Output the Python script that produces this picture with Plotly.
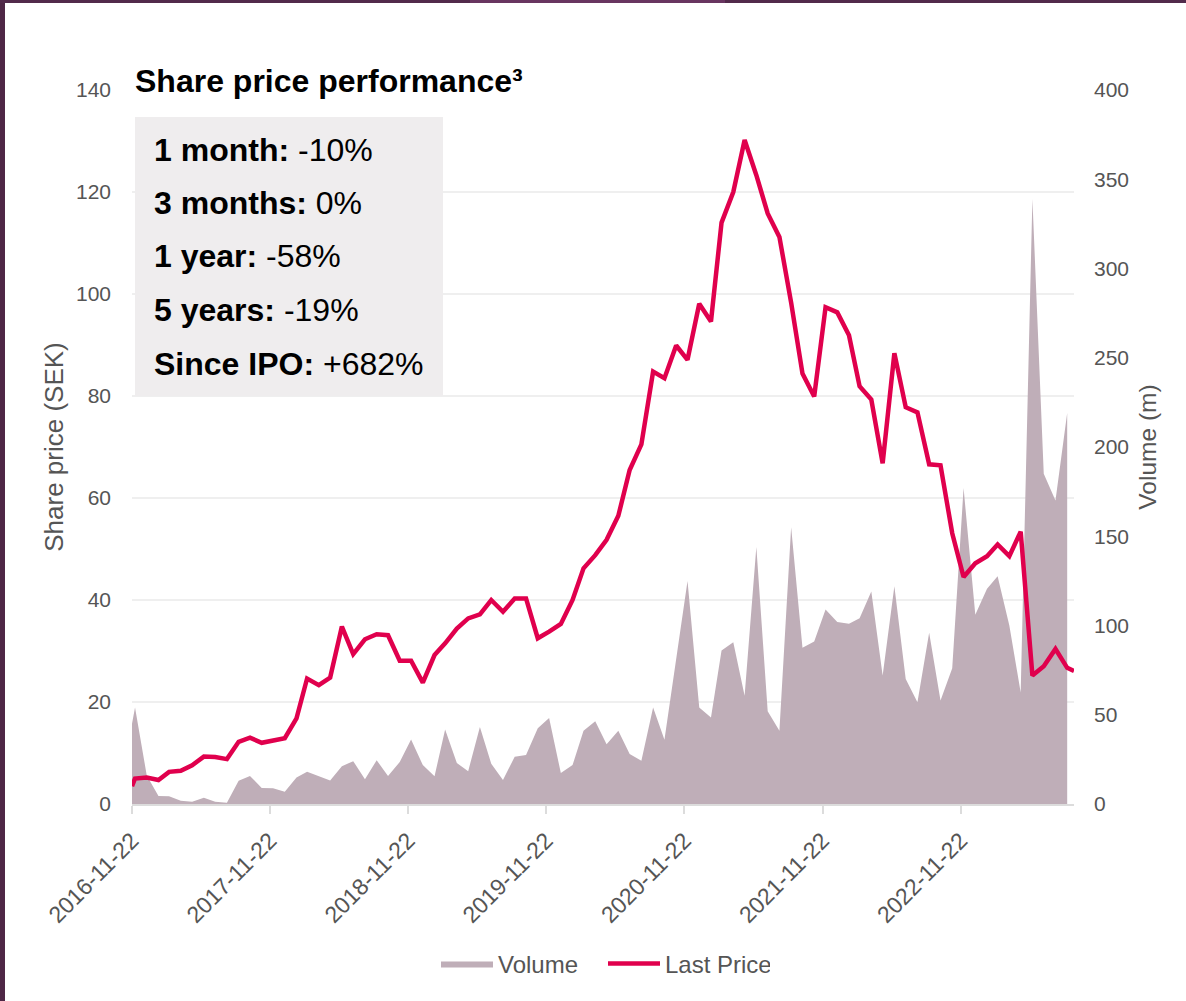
import pandas as pd
import plotly.graph_objects as go

# ---------------- data ----------------
ipo_date = "2016-11-22"
last_date = "2023-09-18"
month_ends = [d.strftime("%Y-%m-%d") for d in pd.date_range("2016-11-30", "2023-08-31", freq="ME")]
volume_dates = [ipo_date] + month_ends
price_dates = volume_dates + [last_date]

last_price = [
    3.5, 5.0, 5.2,
    4.7, 6.3, 6.5, 7.6, 9.3, 9.2, 8.8, 12.2, 13.0, 12.0, 12.4, 12.9,
    16.8, 24.6, 23.3, 24.8, 34.8, 29.4, 32.3, 33.3, 33.1, 28.1, 28.1, 23.8,
    29.2, 31.5, 34.4, 36.4, 37.2, 40.0, 37.7, 40.3, 40.3, 32.5, 33.8, 35.3,
    40.0, 46.2, 48.8, 51.8, 56.5, 65.5, 70.5, 84.8, 83.5, 89.9, 87.1, 98.1,
    94.6, 114.0, 120.0, 130.2, 123.3, 115.8, 111.2, 98.3, 84.4, 79.9, 97.4, 96.4,
    91.9, 81.9, 79.3, 66.8, 88.4, 77.8, 76.8, 66.6, 66.4, 53.1, 44.5, 47.2,
    48.6, 50.9, 48.6, 53.4, 25.2, 27.0, 30.4, 26.7,
    26.1,
]

volume = [
    45, 54, 16,
    4.5, 4.3, 1.8, 1.3, 3.5, 1.3, 0.7, 13, 15.7, 9, 8.8, 6.9,
    14.8, 18, 15.7, 13.2, 21.2, 24, 13.8, 24.5, 15.7, 23.5, 36.2, 21.8,
    15.5, 41.8, 23, 18.4, 43.2, 22.6, 13.4, 26.5, 27.4, 42.4, 48.2, 17.3,
    21.8, 41, 46.4, 33.5, 41, 28, 24.2, 54, 36, 80, 125, 54,
    48.4, 86, 90.6, 60.7, 144, 52, 41, 155, 87.5, 91, 109, 102,
    101, 104, 119, 72, 122, 70, 57, 96, 58, 76, 177, 106,
    120.6, 127.6, 100, 62.5, 339, 185, 170, 219,
]

tick_dates = ["2016-11-22", "2017-11-22", "2018-11-22", "2019-11-22",
              "2020-11-22", "2021-11-22", "2022-11-22"]

perf_labels = ["1 month:", "3 months:", "1 year:", "5 years:", "Since IPO:"]
perf_values = ["-10%", "0%", "-58%", "-19%", "+682%"]

# ---------------- styling ----------------
W, H = 1186, 1001
L, R, T, B = 132, 112, 90, 197
PW, PH = W - L - R, H - T - B
FONT = "Liberation Sans, Arial, sans-serif"
GREY = "#555555"
PRICE_COLOR = "#e0004d"
VOL_COLOR = "#bfaeb8"


def px(x):
    return (x - L) / PW


def py(y):
    return (H - B - y) / PH


fig = go.Figure()
fig.add_trace(go.Scatter(
    x=volume_dates, y=volume, name="Volume", yaxis="y",
    mode="lines", fill="tozeroy", fillcolor=VOL_COLOR,
    line=dict(width=0, color=VOL_COLOR), hoverinfo="x+y",
))
fig.add_trace(go.Scatter(
    x=price_dates, y=last_price, name="Last Price", yaxis="y2",
    mode="lines", line=dict(width=4.5, color=PRICE_COLOR),
))

shapes = [
    # performance box
    dict(type="rect", xref="paper", yref="paper", x0=px(135), x1=px(443),
         y0=py(396), y1=py(117), fillcolor="#efedee", line=dict(width=0), layer="above"),
    # page frame
    dict(type="rect", xref="paper", yref="paper", x0=px(0), x1=px(5),
         y0=py(H), y1=py(0), fillcolor="#4e2746", line=dict(width=0), layer="above"),
    dict(type="rect", xref="paper", yref="paper", x0=px(0), x1=px(W),
         y0=py(3), y1=py(0), fillcolor="#522a4b", line=dict(width=0), layer="above"),
    dict(type="rect", xref="paper", yref="paper", x0=px(470), x1=px(725),
         y0=py(3), y1=py(0), fillcolor="#683560", line=dict(width=0), layer="above"),
]

annotations = [
    dict(text="<b>Share price performance³</b>", xref="paper", yref="paper",
         x=px(133), y=py(81), xanchor="left", yanchor="middle", showarrow=False,
         font=dict(family=FONT, size=32, color="#000000")),
]
line_y = [150, 203, 256, 310, 364]
for lab, val, yy in zip(perf_labels, perf_values, line_y):
    annotations.append(dict(
        text=f"<b>{lab}</b> {val}", xref="paper", yref="paper",
        x=px(152), y=py(yy), xanchor="left", yanchor="middle", showarrow=False,
        font=dict(family=FONT, size=32, color="#000000"),
    ))

fig.update_layout(
    width=W, height=H,
    margin=dict(l=L, r=R, t=T, b=B, pad=0),
    paper_bgcolor="white", plot_bgcolor="white",
    font=dict(family=FONT, color=GREY),
    showlegend=True,
    legend=dict(orientation="h", x=0.5, xanchor="center", y=py(964), yanchor="middle",
                font=dict(family=FONT, size=24, color=GREY), itemwidth=52,
                entrywidth=100, entrywidthmode="pixels",
                bgcolor="rgba(0,0,0,0)"),
    xaxis=dict(
        type="date", range=[ipo_date, last_date],
        tickvals=tick_dates, ticktext=tick_dates, tickangle=-45,
        tickfont=dict(family=FONT, size=23, color=GREY),
        showgrid=False, zeroline=False,
        showline=True, linecolor="#dcdcdc", linewidth=2,
        ticks="outside", ticklen=8, tickwidth=2, tickcolor="#dcdcdc",
        ticklabelstandoff=4, automargin=False,
    ),
    yaxis=dict(
        side="right", range=[0, 400], dtick=50,
        title=dict(text="Volume (m)", font=dict(family=FONT, size=24.5, color=GREY), standoff=10),
        tickfont=dict(family=FONT, size=21, color=GREY),
        showgrid=False, zeroline=False, showline=False, ticks="",
        ticklabelstandoff=19, automargin=False,
    ),
    yaxis2=dict(
        overlaying="y", side="left", range=[0, 140], dtick=20,
        title=dict(text="Share price (SEK)", font=dict(family=FONT, size=26, color=GREY), standoff=4),
        tickfont=dict(family=FONT, size=21, color=GREY),
        showgrid=True, gridcolor="#efefef", gridwidth=1.5,
        zeroline=False, showline=False, ticks="",
        ticklabelstandoff=20, automargin=False,
    ),
    shapes=shapes,
    annotations=annotations,
)

fig.write_html(
    "out.html",
    config={"displayModeBar": False},
    post_script="document.body.style.margin='0';document.body.style.overflow='hidden';",
)
